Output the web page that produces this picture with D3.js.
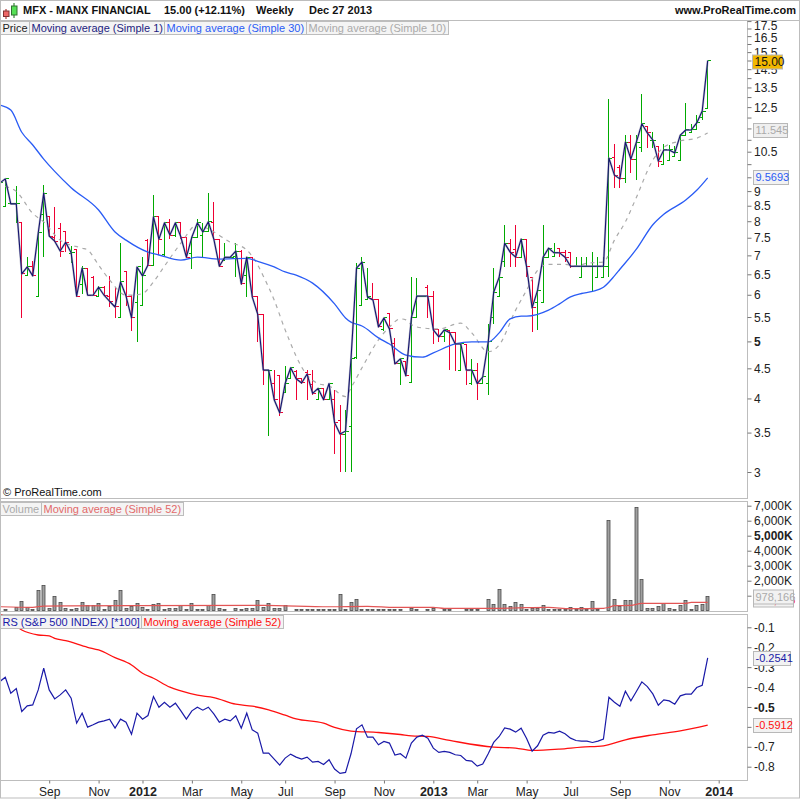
<!DOCTYPE html>
<html><head><meta charset="utf-8">
<script src="https://cdn.jsdelivr.net/npm/d3@7"></script>
<style>html,body{margin:0;padding:0;background:#fff}svg{display:block}text{font-family:"Liberation Sans",Arial,sans-serif}</style>
</head><body><div id="c"></div>
<script>
const opens=[9.10,8.49,8.56,8.56,7.95,6.48,6.69,5.97,8.20,8.14,7.52,7.79,7.67,7.04,7.15,6.24,6.66,6.43,5.97,6.18,5.97,5.76,5.50,6.56,5.97,5.83,5.76,7.43,6.74,8.14,7.01,7.95,7.58,7.95,7.52,7.04,7.52,7.58,7.67,7.95,7.46,6.87,6.95,6.98,7.12,6.46,6.95,5.95,5.56,4.47,4.24,4.37,4.10,4.33,4.45,4.32,4.43,4.22,3.98,4.16,3.98,3.98,3.67,3.48,3.58,4.70,5.76,5.90,5.92,5.88,5.23,5.58,4.95,4.58,4.63,4.25,5.48,5.97,6.18,5.95,5.23,5.09,5.21,5.17,4.47,4.93,4.24,4.47,4.24,4.24,5.48,5.95,6.84,7.34,7.15,6.95,7.46,6.43,5.83,5.83,6.95,6.98,7.18,7.09,7.09,6.71,6.43,6.71,6.71,6.43,6.43,6.71,10.28,9.87,9.44,10.90,10.20,10.68,11.60,10.99,10.72,10.00,10.16,10.31,10.16,11.20,11.30,11.43,12.00,12.41];
const highs=[9.40,9.44,8.56,9.17,7.95,6.95,6.84,7.64,9.21,8.14,8.46,7.95,7.67,7.26,7.15,6.71,6.66,6.46,6.21,6.21,6.46,6.18,7.34,6.56,5.99,6.69,6.95,7.46,8.86,8.17,7.95,8.07,7.95,7.95,7.52,7.52,8.07,7.95,8.93,8.62,7.46,7.34,6.95,7.34,7.15,6.95,6.95,5.95,5.56,4.47,4.47,4.38,4.54,4.51,4.47,4.33,4.47,4.47,4.17,4.17,4.24,4.14,3.90,3.83,4.67,6.79,6.95,6.66,6.28,5.88,5.48,5.58,5.07,4.67,4.63,6.43,6.40,5.97,6.23,6.08,5.23,5.23,5.23,5.17,4.95,4.93,4.67,4.60,4.35,5.36,6.66,6.43,7.89,7.46,7.89,7.46,7.46,6.43,6.11,7.89,7.20,7.34,7.20,7.15,7.09,6.95,6.95,6.95,7.09,6.95,6.95,12.91,10.81,9.95,11.20,11.20,11.20,13.16,11.60,11.35,10.72,10.81,10.76,10.72,11.20,12.70,11.71,12.14,12.31,15.00];
const lows=[9.00,8.49,8.56,7.95,5.48,6.46,6.46,5.97,6.95,7.55,7.37,6.95,7.09,6.79,5.95,6.03,5.99,5.97,5.97,5.97,5.72,5.48,5.48,5.74,5.21,4.99,5.76,6.71,6.71,7.01,6.98,7.46,7.52,7.46,6.92,6.63,7.52,6.95,7.67,7.46,6.69,6.87,6.95,6.43,6.23,5.95,5.95,4.99,4.22,3.46,3.98,3.73,4.10,4.33,3.97,4.24,3.97,4.06,3.97,3.97,3.97,3.22,3.00,3.00,3.00,4.67,5.76,5.88,5.88,5.29,5.21,5.23,4.58,4.22,4.37,4.25,5.48,5.97,5.48,4.95,4.99,4.99,4.47,4.45,4.45,4.22,4.22,3.97,4.24,4.06,5.36,5.95,6.69,6.69,6.69,6.92,6.43,5.19,5.23,5.83,6.95,6.95,6.95,6.82,6.66,6.71,6.43,6.71,6.06,6.43,6.43,6.43,9.11,9.11,9.29,9.66,9.40,10.50,10.65,10.65,9.89,10.00,10.16,10.31,10.16,11.20,11.30,11.43,11.87,12.41];
const closes=[9.29,9.44,8.56,8.56,6.51,6.69,6.46,7.64,8.93,7.55,7.40,7.12,7.37,7.07,5.97,6.66,5.99,5.99,6.18,5.99,5.85,5.72,6.31,5.97,5.48,6.69,6.46,6.74,8.14,7.46,7.95,7.58,7.95,7.52,6.95,7.52,7.95,7.67,7.98,7.46,6.71,6.95,6.95,7.12,6.26,6.95,5.95,5.56,4.47,4.47,3.98,3.78,4.24,4.51,4.32,4.25,4.40,4.08,4.16,3.98,4.24,3.64,3.48,3.52,4.67,6.66,6.82,5.95,5.88,5.29,5.48,5.25,4.58,4.67,4.37,5.48,5.97,5.97,5.97,5.23,5.09,5.23,5.17,4.95,4.95,4.47,4.47,4.24,4.35,4.99,6.06,6.43,7.34,7.09,6.95,7.46,6.69,5.70,6.11,6.95,7.20,7.07,7.07,6.95,6.71,6.71,6.71,6.71,6.71,6.71,6.71,10.24,9.58,9.44,10.90,10.20,10.90,11.71,11.30,10.99,10.12,10.57,10.57,10.45,11.20,11.43,11.43,11.75,12.31,15.00];
const ma30Index=[0,2,4,6,8,10,13,18,21,23,27,29,33,36,40,45,47,50,52,54,57,61,63,64,65,66,69,71,74,77,79,83,86,89,91,93,95,96,100,102,104,106,108,110,112,113,116,119,121,125,127,129];
const ma30Values=[12.60,12.36,11.33,10.78,10.2,9.72,9.12,8.36,7.67,7.43,7.09,7.01,6.87,6.95,6.90,6.92,6.84,6.69,6.56,6.48,6.28,5.79,5.48,5.39,5.35,5.31,5.07,4.95,4.74,4.70,4.78,4.95,4.99,4.99,5.17,5.46,5.52,5.52,5.65,5.79,5.95,6.03,6.08,6.18,6.46,6.63,7.17,7.89,8.22,8.69,9.03,9.48];
const ma10Index=[1,3,6,8,11,15,16,18,20,23,24,26,28,30,33,36,38,42,45,47,48,50,52,56,58,60,63,64,66,69,71,73,74,75,77,80,84,86,89,91,94,96,98,100,103,105,107,110,112,114,116,119,121,124,127,129];
const ma10Values=[9.17,8.99,8.25,7.98,7.43,7.20,7.15,6.74,6.36,5.99,5.99,6.03,6.31,6.71,7.34,7.89,7.76,7.37,7.15,6.74,6.46,5.88,5.23,4.38,4.24,4.20,4.03,4.17,4.51,5.03,5.29,5.46,5.44,5.34,5.27,5.25,5.37,5.17,4.80,4.93,5.65,6.11,6.60,6.76,6.76,6.71,6.79,6.82,7.43,7.98,8.78,10.16,10.68,10.95,11.07,11.30];
const volumes=[0,50,0,220,620,220,90,1355,1690,180,955,555,180,50,155,555,335,335,490,50,310,690,1355,180,265,490,245,50,420,490,50,155,155,335,110,490,50,110,335,1090,155,50,0,155,110,155,180,690,245,490,180,180,335,0,90,90,50,90,50,90,50,50,1090,50,555,755,90,50,50,50,50,50,50,50,0,180,90,0,50,180,0,90,50,0,0,50,50,50,0,755,400,1420,400,290,535,400,110,180,180,355,90,90,90,90,220,50,220,110,620,110,0,6020,755,310,690,690,6880,2090,155,155,290,465,155,90,355,690,90,355,420,978];
const volMaIndex=[0,6,8,24,48,60,67,72,79,81,90,96,100,104,110,111,112,115,117,125,126,129];
const volMaValues=[265,222,310,335,355,265,290,222,222,155,155,200,222,133,155,222,335,355,490,490,555,555];
const rs=[-.3725,-.3508,-.4310,-.4076,-.5229,-.4945,-.4895,-.4143,-.3057,-.4143,-.4594,-.4394,-.4143,-.4561,-.5814,-.5312,-.6014,-.5897,-.5764,-.5697,-.5613,-.6064,-.5613,-.5764,-.6365,-.5312,-.5613,-.5430,-.4477,-.5012,-.4761,-.5012,-.4811,-.5196,-.5613,-.5196,-.5012,-.5162,-.5012,-.5346,-.5764,-.5613,-.5697,-.5446,-.6064,-.5312,-.6148,-.6315,-.7318,-.7318,-.7618,-.7919,-.7568,-.7368,-.7518,-.7618,-.7518,-.7769,-.7735,-.7886,-.7652,-.8119,-.8337,-.8287,-.7351,-.6098,-.5897,-.6515,-.6515,-.6900,-.6733,-.6816,-.7418,-.7351,-.7568,-.6816,-.6515,-.6415,-.6566,-.7067,-.7284,-.7234,-.7284,-.7401,-.7435,-.7685,-.7719,-.7969,-.7869,-.7351,-.6783,-.6482,-.6048,-.6115,-.6265,-.6064,-.6582,-.7217,-.6950,-.6415,-.6282,-.6315,-.6215,-.6348,-.6566,-.6683,-.6716,-.6716,-.6783,-.6716,-.6616,-.4511,-.4761,-.4962,-.4210,-.4694,-.4227,-.3742,-.3976,-.4343,-.4912,-.4644,-.4694,-.4861,-.4444,-.4360,-.4360,-.4026,-.3909,-.2541];
const rsMaIndex=[0,1,4,7,9,10,12,16,18,21,24,26,28,31,33,36,39,43,46,49,52,54,59,61,64,69,73,75,78,82,90,94,97,102,106,110,114,119,124,129];
const rsMaValues=[-.03,-.0501,-.1135,-.1386,-.1436,-.1553,-.1670,-.2004,-.2138,-.2522,-.2890,-.3308,-.3558,-.4009,-.4193,-.4410,-.4527,-.4861,-.4962,-.5145,-.5413,-.5597,-.5814,-.6031,-.6215,-.6282,-.6382,-.6449,-.6482,-.6683,-.7017,-.7067,-.7184,-.7117,-.7017,-.6950,-.6649,-.6399,-.6198,-.5912];
const dateTickIndex=[9,18,26,35,44,52,61,70,79,87,96,104,113,122,131];
const dateTickLabels=["Sep","Nov","2012","Mar","May","Jul","Sep","Nov","2013","Mar","May","Jul","Sep","Nov","2014"];
const priceTicks=[17.5,17,16.5,16,15.5,15,14.5,14,13.5,13,12.5,12,11.5,11,10.5,10,9.5,9,8.5,8,7.5,7,6.5,6,5.5,5,4.5,4,3.5,3];
const priceLabels=[17.5,16.5,15.5,14.5,13.5,12.5,10.5,9,8.5,8,7.5,7,6.5,6,5.5,5,4.5,4,3.5,3];
const volTicks=[7000,6000,5000,4000,3000,2000,1000];
const volLabels=[7000,6000,5000,4000,3000,2000];
const rsTicks=[-.1,-.2,-.3,-.4,-.5,-.6,-.7,-.8];
const rsLabels=["-0.1","-0.2","-0.3","-0.4","-0.5","-0.7","-0.8"];

const W=800,H=800,RIGHT=747.5,GRAY="#bdbdbd";
const svg=d3.select("#c").append("svg").attr("width",W).attr("height",H);
const defs=svg.append("defs");
const P={top:{y0:20.5,y1:498.5},vol:{y0:501.5,y1:611.5},rs:{y0:614.5,y1:780.5}};
[["cp",P.top],["cv",P.vol],["cr",P.rs]].forEach(([id,p])=>defs.append("clipPath").attr("id",id).append("rect").attr("x",1).attr("y",p.y0).attr("width",RIGHT-1).attr("height",p.y1-p.y0));

const x=d3.scaleLinear().domain([1,129]).range([5.3,707.7]);
const y=d3.scaleLog().domain([3,15]).range([472,60.5]);
const yV=d3.scaleLinear().domain([0,7000]).range([610.7,505.7]);
const yR=d3.scaleLinear().domain([-.8,-.1]).range([766.7,627.3]);
const snap=v=>Math.round(v-.5)+.5;

// frames
svg.append("rect").attr("x",.5).attr("y",.5).attr("width",W-1).attr("height",797.5).attr("fill","none").attr("stroke",GRAY);
svg.append("line").attr("x1",0).attr("x2",W).attr("y1",20.5).attr("y2",20.5).attr("stroke",GRAY);
[P.top,P.vol,P.rs].forEach(p=>svg.append("rect").attr("x",.5).attr("y",p.y0).attr("width",RIGHT-.5).attr("height",p.y1-p.y0).attr("fill","#fff").attr("stroke",GRAY));

// price panel
const gP=svg.append("g").attr("clip-path","url(#cp)");
const idx=d3.range(closes.length);
const gb=gP.append("g").selectAll("g").data(idx).join("g")
  .attr("stroke",i=>closes[i]>=opens[i]?"#00aa00":"#ee0033").attr("stroke-width",1).attr("fill","none").attr("shape-rendering","crispEdges");
gb.append("line").attr("x1",i=>snap(x(i))).attr("x2",i=>snap(x(i))).attr("y1",i=>y(highs[i])).attr("y2",i=>y(lows[i]));
gb.append("line").attr("x1",i=>snap(x(i))-3).attr("x2",i=>snap(x(i))).attr("y1",i=>snap(y(opens[i]))).attr("y2",i=>snap(y(opens[i])));
gb.append("line").attr("x1",i=>snap(x(i))).attr("x2",i=>snap(x(i))+3).attr("y1",i=>snap(y(closes[i]))).attr("y2",i=>snap(y(closes[i])));
const lineP=d3.line().x(d=>x(d[0])).y(d=>y(d[1]));
const smoothP=d3.line().x(d=>x(d[0])).y(d=>y(d[1])).curve(d3.curveMonotoneX);
gP.append("path").attr("d",smoothP(d3.zip(ma10Index,ma10Values))).attr("fill","none").attr("stroke","#aaaaaa").attr("stroke-width",1.2).attr("stroke-dasharray","4,4.5");
gP.append("path").attr("d",smoothP(d3.zip(ma30Index,ma30Values))).attr("fill","none").attr("stroke","#2a5cf5").attr("stroke-width",1.3);
const closePath=lineP(idx.map(i=>[i,closes[i]]));
gP.append("path").attr("d",closePath).attr("fill","none").attr("stroke","#8f8fa8").attr("stroke-opacity",.55).attr("stroke-width",2.2).attr("stroke-linejoin","round");
gP.append("path").attr("d",closePath).attr("fill","none").attr("stroke","#14146e").attr("stroke-width",1.1).attr("stroke-linejoin","round");

// volume panel
const gV=svg.append("g").attr("clip-path","url(#cv)");
gV.selectAll("rect").data(idx.filter(i=>volumes[i]>0)).join("rect")
  .attr("x",i=>snap(x(i))-1.5).attr("width",3).attr("y",i=>snap(yV(volumes[i]))).attr("height",i=>snap(yV(0))-snap(yV(volumes[i])))
  .attr("fill","#a0a0a0").attr("stroke","#4a4a4a").attr("stroke-width",.8);
gV.append("path").attr("d",d3.line().x(d=>x(d[0])).y(d=>yV(d[1])).curve(d3.curveMonotoneX)(d3.zip(volMaIndex,volMaValues))).attr("fill","none").attr("stroke","#e25555").attr("stroke-width",1.2);

// RS panel
const gR=svg.append("g").attr("clip-path","url(#cr)");
const lineR=d3.line().x(d=>x(d[0])).y(d=>yR(d[1]));
gR.append("path").attr("d",d3.line().x(d=>x(d[0])).y(d=>yR(d[1])).curve(d3.curveMonotoneX)(d3.zip(rsMaIndex,rsMaValues))).attr("fill","none").attr("stroke","#ff1010").attr("stroke-width",1.3);
gR.append("path").attr("d",lineR(idx.map(i=>[i,rs[i]]))).attr("fill","none").attr("stroke","#1a1aa8").attr("stroke-width",1.2);

// axes
const FS=12;
const shift={17.5:4,16.5:1};
function styleAxis(g){g.select(".domain").remove();g.selectAll("line").attr("stroke","#777");g.selectAll("text").attr("fill","#222").style("font-size",FS+"px").style("font-family",'"Liberation Sans",Arial,sans-serif');}
const axP=svg.append("g").attr("transform",`translate(${RIGHT},0)`)
  .call(d3.axisRight(y).tickValues(priceTicks).tickSize(4).tickPadding(2.5).tickFormat(d=>priceLabels.includes(d)?String(d):""));
styleAxis(axP);
axP.selectAll(".tick text").attr("dy",d=>(shift[d]||0)+4.2).style("font-weight",d=>d===5?"bold":"normal");
const axV=svg.append("g").attr("transform",`translate(${RIGHT},0)`)
  .call(d3.axisRight(yV).tickValues(volTicks).tickSize(4).tickPadding(2.5).tickFormat(d=>volLabels.includes(d)?d3.format(",")(d)+"K":""));
styleAxis(axV);
axV.selectAll(".tick text").attr("dy",4.2).style("font-weight",d=>d===5000?"bold":"normal");
const axR=svg.append("g").attr("transform",`translate(${RIGHT},0)`)
  .call(d3.axisRight(yR).tickValues(rsTicks).tickSize(4).tickPadding(2.5).tickFormat(d=>rsLabels.includes(d.toFixed(1))?d.toFixed(1):""));
styleAxis(axR);
axR.selectAll(".tick text").attr("dy",4.2).style("font-weight",d=>Math.abs(d+.5)<1e-9?"bold":"normal");
const axX=svg.append("g").attr("transform",`translate(0,${P.rs.y1})`)
  .call(d3.axisBottom(x).tickValues(dateTickIndex).tickSize(3).tickPadding(4).tickFormat((d,i)=>dateTickLabels[i]));
styleAxis(axX);
axX.selectAll(".tick text").style("font-weight",(d,i)=>/^\d/.test(dateTickLabels[i])?"bold":"normal").style("font-size",(d,i)=>/^\d/.test(dateTickLabels[i])?"12.5px":"12px");

// title bar
const tb=svg.append("g");
tb.append("line").attr("x1",6).attr("x2",6).attr("y1",9).attr("y2",19).attr("stroke","#a01010");
tb.append("rect").attr("x",3.5).attr("y",11).attr("width",5.5).attr("height",5.5).attr("fill","#ee6666").attr("stroke","#803030");
tb.append("line").attr("x1",14).attr("x2",14).attr("y1",3).attr("y2",18).attr("stroke","#107010");
tb.append("rect").attr("x",11.5).attr("y",6).attr("width",5.5).attr("height",9).attr("fill","#55e055").attr("stroke","#307030");
function T(xx,yy,s,o={}){return svg.append("text").attr("x",xx).attr("y",yy).text(s).attr("fill",o.fill||"#111").style("font-size",(o.size||11)+"px").style("font-weight",o.weight||"normal").attr("text-anchor",o.anchor||"start");}
T(23,14,"MFX - MANX FINANCIAL",{weight:"bold"});
T(164,14,"15.00 (+12.11%)",{weight:"bold"});
T(256,14,"Weekly",{weight:"bold"});
T(309,14,"Dec 27 2013",{weight:"bold"});
T(796,14,"www.ProRealTime.com",{weight:"bold",anchor:"end"});
T(3,496,"© ProRealTime.com",{size:11});

// legend tags
function legend(startX,yTop,items){let cx=startX;items.forEach(([s,c])=>{
  const r=svg.append("rect").attr("x",cx).attr("y",yTop+.5).attr("height",13).attr("fill","#f4f4f4").attr("stroke",GRAY);
  const t=svg.append("text").attr("x",cx+2).attr("y",yTop+10.5).text(s).attr("fill",c).style("font-size","11px");
  const w=Math.round(t.node().getComputedTextLength()+4);
  r.attr("width",w);cx+=w;});}
legend(.5,21,[["Price","#222"],["Moving average (Simple 1)","#1c1c80"],["Moving average (Simple 30)","#2a5cf5"],["Moving average (Simple 10)","#aaaaaa"]]);
legend(.5,502,[["Volume","#aaaaaa"],["Moving average (Simple 52)","#e26a6a"]]);
legend(.5,615,[["RS (S&P 500 INDEX) [*100]","#1a1aa8"],["Moving average (Simple 52)","#ff1010"]]);

// value tags
function tag(xx,yc,w,s,fill,col,fs){svg.append("rect").attr("x",xx+.5).attr("y",yc-6.5).attr("width",w).attr("height",14).attr("fill",fill).attr("stroke","#b8b8b8");
  svg.append("text").attr("x",xx+2.5).attr("y",yc+4.4).text(s).attr("fill",col).style("font-size",(fs||11)+"px");}
tag(753,599.5,40,"555,166","#f2f2f2","#ee3333");
tag(753,596.5,40,"978,166","#f2f2f2","#aaaaaa");
tag(753,130,34,"11.545","#efefef","#aaaaaa");
tag(753,177,35,"9.5693","#f2f2f2","#2a5cf5");
tag(752,61.5,30,"15.00","#f2b800","#111",12);
tag(753,658,37,"-0.2541","#f2f2f2","#1a1aa8");
tag(753,725,38,"-0.5912","#f2f2f2","#ff1010");
</script></body></html>
